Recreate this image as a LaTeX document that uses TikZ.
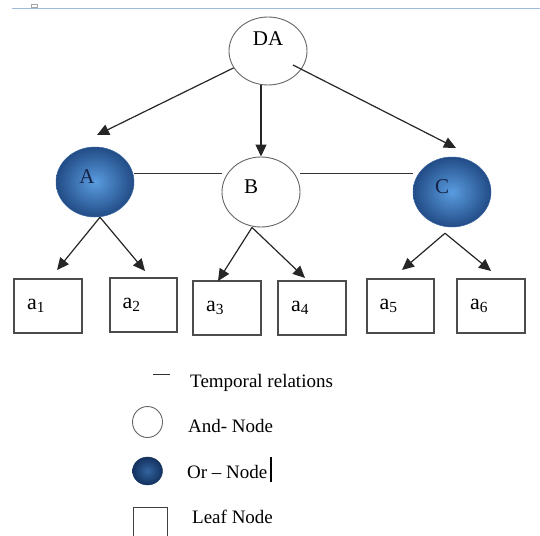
\documentclass[tikz,border=0pt]{standalone}
\usepackage{fontspec}
\setmainfont{Liberation Serif}
\usetikzlibrary{arrows.meta,shapes.geometric,calc}
\definecolor{orin}{RGB}{90,156,224}
\definecolor{orout}{RGB}{34,76,134}
\definecolor{oredge}{RGB}{55,100,160}
\definecolor{lgin}{RGB}{50,100,160}
\definecolor{lgout}{RGB}{20,50,95}
\definecolor{topline}{RGB}{157,187,221}
\definecolor{navytext}{RGB}{20,35,70}
\begin{document}
\begin{tikzpicture}[x=1pt,y=-1pt,
  andnode/.style={ellipse, draw=black!60, line width=0.9pt, fill=white, inner sep=0pt},
  ornode/.style={ellipse, inner sep=0pt, inner color=orin, outer color=orout, draw=oredge, line width=0.5pt},
  leafbox/.style={rectangle, draw=black!70, line width=1.1pt, inner sep=0pt, minimum height=54pt,
                  text width=42pt, align=left, font=\fontsize{22}{24}\selectfont},
  arr/.style={-{Triangle[length=12pt,width=11pt]}, line width=1.2pt, black!85},
  tl/.style={line width=0.9pt, black!80},
  lbl/.style={font=\fontsize{21}{24}\selectfont},
  legtext/.style={anchor=base west, inner sep=0pt, font=\fontsize{19}{22}\selectfont}
]
\useasboundingbox (0,0) rectangle (540,535);
% top rule
\draw[topline, line width=1.8pt] (12,8.5) -- (540,8.5);
\draw[black!35, line width=0.6pt] (31,4) rectangle (37,7);

% main nodes
\node[andnode, minimum width=78pt, minimum height=68pt,
      label={[lbl, yshift=12.5pt]center:DA}] (DA) at (268,51) {};
\node[ornode, minimum width=78pt, minimum height=70pt,
      label={[lbl, text=navytext, xshift=-8pt, yshift=5pt]center:A}] (A) at (95,182) {};
\node[andnode, minimum width=78pt, minimum height=70pt,
      label={[lbl, xshift=-10pt, yshift=5pt]center:B}] (B) at (261,192) {};
\node[ornode, minimum width=78pt, minimum height=70pt,
      label={[lbl, text=navytext, xshift=-10pt, yshift=5pt]center:C}] (C) at (452,192) {};

% leaves
\node[leafbox, minimum width=68pt] (a1) at (48,306) {a\textsubscript{1}};
\node[leafbox, minimum width=67pt] (a2) at (143.5,305) {a\textsubscript{2}};
\node[leafbox, minimum width=68pt] (a3) at (227,308) {a\textsubscript{3}};
\node[leafbox, minimum width=68pt] (a4) at (312,308) {a\textsubscript{4}};
\node[leafbox, minimum width=67pt] (a5) at (400.5,306) {a\textsubscript{5}};
\node[leafbox, minimum width=68pt] (a6) at (491,306) {a\textsubscript{6}};

% arrow tips
\coordinate (tA) at (97,135);
\coordinate (tC) at (456,148);
\coordinate (t1) at (57,270);
\coordinate (t2) at (145,271);
\coordinate (t3) at (218,281);
\coordinate (t4) at (305,278);
\coordinate (t5) at (402,270);
\coordinate (t6) at (491,271);

% arrows
\draw[arr] (DA) -- (tA);
\draw[arr] (DA.south -| B.north) -- (B.north);
\draw[arr] ([shift={(25pt,-14pt)}]DA.center) -- (tC);
\draw[arr] ([xshift=5pt]A.south) -- (t1);
\draw[arr] ([xshift=5pt]A.south) -- (t2);
\draw[arr] ([xshift=-9pt]B.south) -- (t3);
\draw[arr] ([xshift=-9pt]B.south) -- (t4);
\draw[arr] ([yshift=-6pt,xshift=-7pt]C.south) -- (t5);
\draw[arr] ([yshift=-6pt,xshift=-7pt]C.south) -- (t6);

% temporal relations
\draw[tl] ([yshift=9pt]A.east) -- ([yshift=19pt]B.west);
\draw[tl] ([yshift=19pt]B.east) -- ([yshift=19pt]C.west);

% legend
\coordinate (lgT1) at (153,374);
\coordinate (lgT2) at (170,374);
\draw[tl] (lgT1) -- (lgT2);
\node[legtext] (ltT) at (190,387) {Temporal relations};

\node[ellipse, draw=black!60, line width=0.9pt, fill=white, inner sep=0pt,
      minimum width=30pt, minimum height=31pt] (lgAnd) at (147.5,422) {};
\node[legtext] (ltAnd) at (188,432.5) {And- Node};

\node[ellipse, inner sep=0pt, inner color=lgin, outer color=lgout, draw=lgout, line width=0.4pt,
      minimum width=30pt, minimum height=28pt] (lgOr) at (147.5,471) {};
\node[legtext] (ltOr) at (187,478) {Or – Node};
\draw[black, line width=1.3pt] (271,457) -- (271,482);

\draw[black!75, line width=1pt] (133,536) -- (133,507) -- (167,507) -- (167,536);
\node[legtext] (ltLeaf) at (192,523) {Leaf Node};
\end{tikzpicture}
\end{document}
